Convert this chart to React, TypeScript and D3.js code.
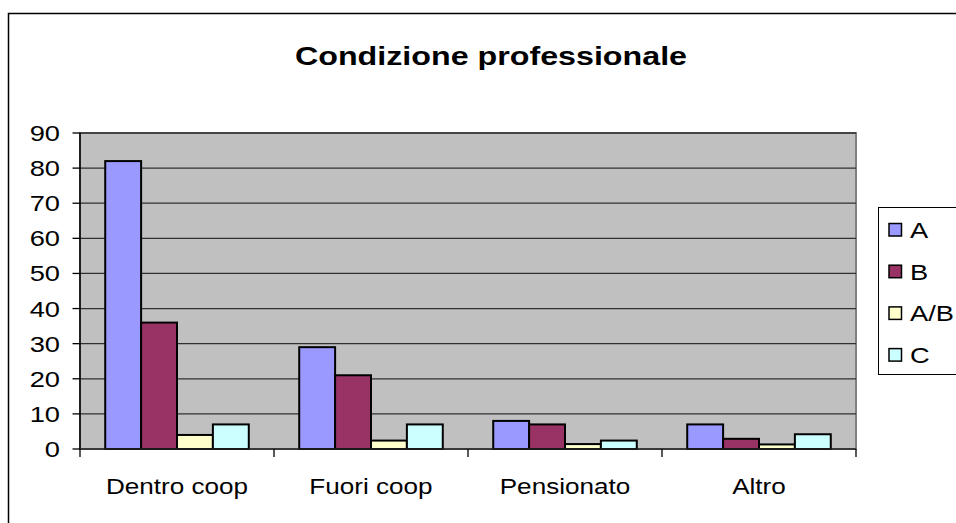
import React from "react";
import * as d3 from "d3";

const categories = ["Dentro coop", "Fuori coop", "Pensionato", "Altro"];
const seriesNames = ["A", "B", "A/B", "C"];
const valuesA = [82, 29, 8, 7];
const valuesB = [36, 21, 7, 2.9];
const valuesAB = [4, 2.4, 1.4, 1.3];
const valuesC = [7, 7, 2.4, 4.2];
const yTicks = [0, 10, 20, 30, 40, 50, 60, 70, 80, 90];
const colors = ["#9999FF", "#993366", "#FFFFCC", "#CCFFFF"];
const title = "Condizione professionale";

const W = 956;
const H = 523;
const SX = 1.24;
const FONT = "'Liberation Sans', Arial, sans-serif";

const plot = { left: 80, right: 856, top: 133, bottom: 449 };

function T(props: {
  x: number;
  y: number;
  anchor?: string;
  size: number;
  bold?: boolean;
  sx?: number;
  children: React.ReactNode;
}) {
  return (
    <text
      transform={`translate(${props.x},${props.y}) scale(${props.sx || SX},1)`}
      textAnchor={props.anchor || "start"}
      fontFamily={FONT}
      fontSize={props.size}
      fontWeight={props.bold ? "bold" : "normal"}
      fill="#000"
    >
      {props.children}
    </text>
  );
}

export default function App() {
  const allSeries = [valuesA, valuesB, valuesAB, valuesC];
  const x0 = d3
    .scaleBand<string>()
    .domain(categories)
    .range([plot.left, plot.right])
    .paddingInner(0.26)
    .paddingOuter(0.13);
  const x1 = d3
    .scaleBand<string>()
    .domain(seriesNames)
    .range([0, x0.bandwidth()]);
  const y = d3.scaleLinear().domain([0, 90]).range([plot.bottom, plot.top]);
  const boundaries = d3
    .range(categories.length + 1)
    .map((i) => plot.left + i * ((plot.right - plot.left) / categories.length));

  const legendX = 878;
  const legendTop = 207;
  const legendRowY = (i: number) => 230 + i * 41.7;

  return (
    <svg
      width={W}
      height={H}
      style={{ position: "absolute", left: 0, top: 0, background: "#fff" }}
    >
      <rect x={0} y={0} width={W} height={H} fill="#fff" />
      <rect x={8.5} y={13.5} width={W + 20} height={H + 20} fill="none" stroke="#000" strokeWidth={1.5} />

      <T x={491} y={65} anchor="middle" size={26} bold>
        {title}
      </T>

      <rect
        x={plot.left}
        y={plot.top}
        width={plot.right - plot.left}
        height={plot.bottom - plot.top}
        fill="#C0C0C0"
        stroke="#808080"
        strokeWidth={2}
      />
      {yTicks.map((t) => (
        <g key={t}>
          {t > 0 && (
            <line x1={plot.left} x2={plot.right} y1={y(t)} y2={y(t)} stroke="#303030" strokeWidth={1.3} />
          )}
          <line x1={72.5} x2={plot.left} y1={y(t)} y2={y(t)} stroke="#000" strokeWidth={1.3} />
          <T x={60} y={y(t) + 8} anchor="end" size={22}>
            {t}
          </T>
        </g>
      ))}

      {categories.map((c, ci) => (
        <g key={c}>
          {seriesNames.map((s, si) => {
            const v = allSeries[si][ci];
            const bx = (x0(c) as number) + (x1(s) as number);
            return (
              <rect
                key={s}
                x={bx}
                y={y(v)}
                width={x1.bandwidth()}
                height={plot.bottom - y(v)}
                fill={colors[si]}
                stroke="#000"
                strokeWidth={2}
              />
            );
          })}
        </g>
      ))}

      <line x1={plot.left} x2={plot.left} y1={plot.top} y2={plot.bottom} stroke="#000" strokeWidth={1.5} />
      <line x1={plot.left} x2={plot.right} y1={plot.bottom} y2={plot.bottom} stroke="#222" strokeWidth={1.5} />
      {boundaries.map((bx, i) => (
        <line key={i} x1={bx} x2={bx} y1={plot.bottom} y2={plot.bottom + 8} stroke="#000" strokeWidth={1.3} />
      ))}
      {categories.map((c) => (
        <T key={c} x={(x0(c) as number) + x0.bandwidth() / 2} y={494} anchor="middle" size={22.5} sx={1.16}>
          {c}
        </T>
      ))}

      <rect x={legendX + 0.5} y={legendTop + 0.5} width={90} height={167} fill="#fff" stroke="#000" strokeWidth={1} />
      {seriesNames.map((s, i) => (
        <g key={s}>
          <rect
            x={889}
            y={legendRowY(i) - 6.5}
            width={12.5}
            height={12.5}
            fill={colors[i]}
            stroke="#000"
            strokeWidth={1.5}
          />
          <T x={910} y={legendRowY(i) + 8} size={22}>
            {s}
          </T>
        </g>
      ))}
    </svg>
  );
}
